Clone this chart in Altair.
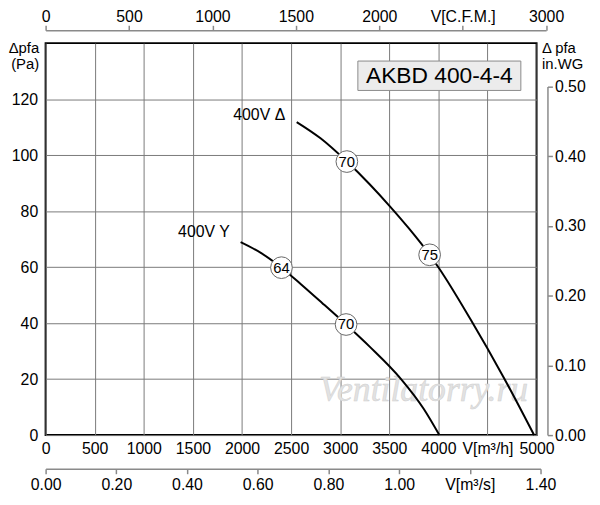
import altair as alt
import pandas as pd

FONT = "Liberation Sans"

# ---- data ----
# Fan curves: airflow V [m³/h] vs static pressure Δpfa [Pa]
delta_flow = [2557, 2800, 3068, 3300, 3504, 3700, 3911, 4005, 4330, 4665, 4975]
delta_pa = [111.8, 106.0, 97.7, 89.6, 81.8, 73.8, 64.4, 59.7, 41.2, 20.6, 0.0]
star_flow = [1986, 2200, 2402, 2600, 2816, 3060, 3300, 3620, 3850, 4010]
star_pa = [68.9, 64.9, 59.8, 53.9, 47.2, 39.5, 31.6, 20.0, 9.4, 0.0]

# Sound-level markers on the curves
marker_flow = [3068, 3911, 2402, 3060]
marker_pa = [97.7, 64.4, 59.8, 39.5]
marker_text = ["70", "75", "64", "70"]

# Curve names
curve_names = ["400V Δ", "400V Y"]
curve_label_flow = [2440, 1875]
curve_label_pa = [114.4, 72.7]

title_text = "AKBD 400-4-4"
watermark_text = "Ventilatorry.ru"

# Axis tick values
m3h_ticks = [0, 500, 1000, 1500, 2000, 2500, 3000, 3500, 4000, 4500, 5000]
pa_ticks = [0, 20, 40, 60, 80, 100, 120]
cfm_ticks = [0, 500, 1000, 1500, 2000, 2500, 3000]
m3s_ticks = [0.0, 0.2, 0.4, 0.6, 0.8, 1.0, 1.2, 1.4]
inwg_ticks = [0.0, 0.1, 0.2, 0.3, 0.4, 0.5]

# ---- layout / conversions ----
W, H = 496, 396
X_MAX, Y_MAX = 5000, 140
M3H_PER_CFM = 1.699011
PA_PER_INWG = 249.089
GRID = "#7a7a7a"
SEC = "#8a8a8a"

curves = pd.DataFrame(
    {
        "flow": delta_flow + star_flow,
        "pa": delta_pa + star_pa,
        "curve": [curve_names[0]] * len(delta_flow) + [curve_names[1]] * len(star_flow),
    }
)
markers = pd.DataFrame({"flow": marker_flow, "pa": marker_pa, "txt": marker_text})
labels = pd.DataFrame({"flow": curve_label_flow, "pa": curve_label_pa, "txt": curve_names})
box = pd.DataFrame({"flow": [3180], "flow2": [4840], "pa": [123.1], "pa2": [133.6]})
box_txt = pd.DataFrame({"flow": [4010], "pa": [128.4], "txt": [title_text]})
wm = pd.DataFrame({"flow": [3850], "pa": [15.9], "txt": [watermark_text]})

x_axis = alt.Axis(
    values=m3h_ticks, grid=True, gridColor=GRID, gridWidth=1, gridOpacity=1,
    ticks=False, domain=False, labelFont=FONT, labelFontSize=16, labelColor="black",
    labelPadding=6, labelOverlap=False, labelFlush=False, format="d",
    labelExpr="datum.value == 4500 ? 'V[m³/h]' : datum.label", title=None,
)
y_axis = alt.Axis(
    values=pa_ticks, grid=True, gridColor=GRID, gridWidth=1, gridOpacity=1,
    ticks=False, domain=False, labelFont=FONT, labelFontSize=16, labelColor="black",
    labelPadding=8, labelOverlap=False, labelFlush=False, format="d",
    title=["Δpfa", "(Pa)"], titleAngle=0, titleAlign="right", titleBaseline="top",
    titleX=-7, titleY=-3, titleFont=FONT, titleFontSize=15, titleFontWeight="normal",
    titleColor="black", titleLineHeight=17,
)
xs = alt.Scale(domain=[0, X_MAX], nice=False, zero=True)
ys = alt.Scale(domain=[0, Y_MAX], nice=False, zero=True)
X = alt.X("flow:Q", scale=xs, axis=x_axis)
Y = alt.Y("pa:Q", scale=ys, axis=y_axis)

wm_layer = alt.Chart(wm).mark_text(
    font="Liberation Serif", fontStyle="italic", fontSize=36, color="#e2e2e2",
    stroke="#d0d0d0", strokeWidth=0.5,
).encode(x=X, y=Y, text="txt:N")

box_layer = alt.Chart(box).mark_rect(
    fill="#ececec", stroke="#8a8a8a", strokeWidth=1
).encode(x=X, x2="flow2:Q", y=Y, y2="pa2:Q")

box_text = alt.Chart(box_txt).mark_text(
    font=FONT, fontSize=23, color="black", baseline="middle"
).encode(x=X, y=Y, text="txt:N")

lines = alt.Chart(curves).mark_line(
    color="black", strokeWidth=2, interpolate="monotone"
).encode(x=X, y=Y, detail="curve:N")

circles = alt.Chart(markers).mark_circle(
    color="white", opacity=1, stroke="#666666", strokeWidth=1, size=480
).encode(x=X, y=Y)

circle_txt = alt.Chart(markers).mark_text(
    font=FONT, fontSize=15, color="black", baseline="middle"
).encode(x=X, y=Y, text="txt:N")

curve_txt = alt.Chart(labels).mark_text(
    font=FONT, fontSize=16, color="black", align="right", baseline="middle"
).encode(x=X, y=Y, text="txt:N")

main = alt.layer(wm_layer, box_layer, box_text, lines, circles, circle_txt, curve_txt)

# Secondary axes (unit conversions)
cfm_px = W * (3000 * M3H_PER_CFM) / X_MAX
m3s_px = W * (1.4 * 3600) / X_MAX
inwg_px = H * (0.5 * PA_PER_INWG) / Y_MAX

sec_common = dict(
    domainColor=SEC, domainWidth=1.5, tickColor=SEC, tickWidth=1.5, tickSize=5,
    labelFont=FONT, labelFontSize=16, labelColor="black", labelOverlap=False,
    labelFlush=False, grid=False, title=None,
)

cfm_layer = alt.Chart(pd.DataFrame({"cfm": cfm_ticks})).mark_point(opacity=0).encode(
    x=alt.X(
        "cfm:Q",
        scale=alt.Scale(domain=[0, 3000], range=[0, cfm_px], nice=False),
        axis=alt.Axis(
            orient="top", offset=13, values=cfm_ticks, format="d", labelPadding=1,
            labelExpr="datum.value == 2500 ? 'V[C.F.M.]' : datum.label", **sec_common
        ),
    ),
    y=alt.value(0),
)

m3s_layer = alt.Chart(pd.DataFrame({"m3s": m3s_ticks})).mark_point(opacity=0).encode(
    x=alt.X(
        "m3s:Q",
        scale=alt.Scale(domain=[0, 1.4], range=[0, m3s_px], nice=False),
        axis=alt.Axis(
            orient="bottom", offset=34, values=m3s_ticks, format=".2f", labelPadding=3,
            labelExpr="abs(datum.value - 1.2) < 1e-6 ? 'V[m³/s]' : datum.label", **sec_common
        ),
    ),
    y=alt.value(0),
)

inwg_layer = alt.Chart(pd.DataFrame({"inwg": inwg_ticks})).mark_point(opacity=0).encode(
    y=alt.Y(
        "inwg:Q",
        scale=alt.Scale(domain=[0, 0.5], range=[H, H - inwg_px], nice=False),
        axis=alt.Axis(
            orient="right", offset=11, values=inwg_ticks, format=".2f", labelPadding=2,
            domainColor=SEC, domainWidth=1.5, tickColor=SEC, tickWidth=1.5, tickSize=5,
            labelFont=FONT, labelFontSize=16, labelColor="black", labelOverlap=False,
            labelFlush=False, grid=False,
            title=["Δ pfa", "in.WG"], titleAngle=0, titleAlign="left", titleBaseline="top",
            titleX=-6, titleY=-3, titleFont=FONT, titleFontSize=15, titleFontWeight="normal",
            titleColor="black", titleLineHeight=17,
        ),
    ),
    x=alt.value(0),
)

chart = (
    alt.layer(main, cfm_layer, m3s_layer, inwg_layer)
    .resolve_scale(x="independent", y="independent")
    .properties(
        width=W, height=H,
        autosize=alt.AutoSizeParams(type="none"),
        padding={"left": 38, "top": 33, "right": 56, "bottom": 56},
        background="white",
    )
    .configure_view(stroke="black", strokeWidth=2)
)

chart.save("out.html", embed_options={"renderer": "svg", "actions": False})
